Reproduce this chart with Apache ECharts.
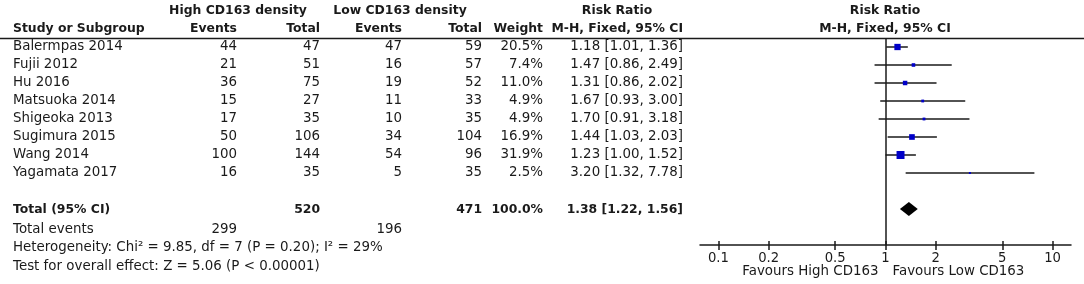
<!DOCTYPE html>
<html>
<head>
<meta charset="utf-8">
<script src="https://cdn.jsdelivr.net/npm/echarts@6/dist/echarts.min.js"></script>
<style>
  html, body { margin: 0; padding: 0; background: #fff; }
  #chart { width: 1084px; height: 284px; }
</style>
</head>
<body>
<div id="chart"></div>
<script>
  // study data
  const studies = ['Balermpas 2014', 'Fujii 2012', 'Hu 2016', 'Matsuoka 2014', 'Shigeoka 2013', 'Sugimura 2015', 'Wang 2014', 'Yagamata 2017']
  const highEvents = [44, 21, 36, 15, 17, 50, 100, 16]
  const highTotal = [47, 51, 75, 27, 35, 106, 144, 35]
  const lowEvents = [47, 16, 19, 11, 10, 34, 54, 5]
  const lowTotal = [59, 57, 52, 33, 35, 104, 96, 35]
  const weights = [20.5, 7.4, 11.0, 4.9, 4.9, 16.9, 31.9, 2.5]
  const ratios = [1.18, 1.47, 1.31, 1.67, 1.70, 1.44, 1.23, 3.20]
  const ciLow = [1.01, 0.86, 0.86, 0.93, 0.91, 1.03, 1.00, 1.32]
  const ciHigh = [1.36, 2.49, 2.02, 3.00, 3.18, 2.03, 1.52, 7.78]

  // pooled result
  const totalHighEvents = 299
  const totalHigh = 520
  const totalLowEvents = 196
  const totalLow = 471
  const totalWeight = 100.0
  const totalRatio = [1.38, 1.22, 1.56]

  const tickValues = [0.1, 0.2, 0.5, 1, 2, 5, 10]

  const FONT = 'DejaVu Sans'
  const SIZE = 13.4
  const SIZE_BOLD = 12.4
  const INK = '#1a1a1a'
  const TOTAL_ROW = 9
  const lg = Math.log10

  const chart = echarts.init(document.getElementById('chart'))

  const fmtCI = (r, a, b) => r.toFixed(2) + ' [' + a.toFixed(2) + ', ' + b.toFixed(2) + ']'

  const plotGrid = { left: 700, right: 13, top: 38, bottom: 39 }
  const xAxisBase = {
    type: 'value',
    min: -1.11,
    max: 1.11,
    position: 'bottom',
    splitLine: { show: false }
  }

  chart.setOption({
    animation: false,
    // second grid only carries the tick stubs above the axis line
    grid: [plotGrid, { ...plotGrid }],
    xAxis: [
      {
        ...xAxisBase,
        gridIndex: 0,
        axisLine: { show: true, onZero: false, lineStyle: { color: INK, width: 1.5 } },
        axisTick: { show: true, length: 5, lineStyle: { color: INK, width: 1.5 }, customValues: tickValues.map(lg) },
        axisLabel: {
          show: true,
          margin: 7,
          color: INK,
          fontFamily: FONT,
          fontSize: 13.2,
          customValues: tickValues.map(lg),
          formatter: (v) => String(Number(Math.pow(10, v).toPrecision(2)))
        }
      },
      {
        ...xAxisBase,
        gridIndex: 1,
        axisLine: { show: false, onZero: false },
        axisTick: { show: true, inside: true, length: 4, lineStyle: { color: INK, width: 1.5 }, customValues: tickValues.map(lg) },
        axisLabel: { show: false }
      }
    ],
    yAxis: [
      { type: 'value', gridIndex: 0, inverse: true, min: -0.5, max: 11, show: false },
      { type: 'value', gridIndex: 1, inverse: true, min: -0.5, max: 11, show: false }
    ],
    series: [
      {
        // confidence interval whiskers
        type: 'custom',
        silent: true,
        encode: { x: [0, 1], y: 2 },
        data: studies.map((s, i) => [lg(ciLow[i]), lg(ciHigh[i]), i]),
        renderItem: (params, api) => {
          const a = api.coord([api.value(0), api.value(2)])
          const b = api.coord([api.value(1), api.value(2)])
          return {
            type: 'line',
            shape: { x1: a[0], y1: a[1], x2: b[0], y2: b[1] },
            style: { stroke: INK, lineWidth: 1.5 }
          }
        },
        z: 2
      },
      {
        // point estimates, size by weight
        type: 'scatter',
        symbol: 'rect',
        silent: true,
        data: studies.map((s, i) => ({
          value: [lg(ratios[i]), i],
          symbolSize: Math.max(2, 1.5 * Math.sqrt(weights[i]) - 0.5)
        })),
        itemStyle: { color: '#0000c8', opacity: 1 },
        markLine: {
          silent: true,
          symbol: 'none',
          label: { show: false },
          lineStyle: { color: INK, width: 1.5, type: 'solid' },
          data: [{ xAxis: 0 }]
        },
        z: 3
      },
      {
        // pooled diamond
        type: 'custom',
        silent: true,
        encode: { x: [0, 1, 2], y: 3 },
        data: [[lg(totalRatio[1]), lg(totalRatio[0]), lg(totalRatio[2]), TOTAL_ROW]],
        renderItem: (params, api) => {
          const l = api.coord([api.value(0), api.value(3)])
          const m = api.coord([api.value(1), api.value(3)])
          const r = api.coord([api.value(2), api.value(3)])
          const h = 7
          return {
            type: 'polygon',
            shape: { points: [[l[0], l[1]], [m[0], m[1] - h], [r[0], r[1]], [m[0], m[1] + h]] },
            style: { fill: '#000' }
          }
        },
        z: 3
      }
    ]
  })

  // table text, rows placed through the y axis
  const rowY = (i) => chart.convertToPixel({ yAxisIndex: 0 }, i)
  const texts = []
  const t = (x, y, text, align, bold) => {
    texts.push({
      type: 'text',
      x: x,
      y: y,
      silent: true,
      style: {
        text: text,
        font: (bold ? 'bold ' + SIZE_BOLD : SIZE) + 'px "' + FONT + '"',
        textAlign: align || 'left',
        textVerticalAlign: 'middle',
        fill: INK
      }
    })
  }

  const col = { study: 13, hiEv: 237, hiTot: 320, loEv: 402, loTot: 482, w: 543, ci: 683, plot: 885 }

  // header
  t(238, 11, 'High CD163 density', 'center', true)
  t(400, 11, 'Low CD163 density', 'center', true)
  t(617, 11, 'Risk Ratio', 'center', true)
  t(col.plot, 11, 'Risk Ratio', 'center', true)
  t(col.study, 29, 'Study or Subgroup', 'left', true)
  t(col.hiEv, 29, 'Events', 'right', true)
  t(col.hiTot, 29, 'Total', 'right', true)
  t(col.loEv, 29, 'Events', 'right', true)
  t(col.loTot, 29, 'Total', 'right', true)
  t(col.w, 29, 'Weight', 'right', true)
  t(col.ci, 29, 'M-H, Fixed, 95% CI', 'right', true)
  t(col.plot, 29, 'M-H, Fixed, 95% CI', 'center', true)

  studies.forEach((s, i) => {
    const y = rowY(i)
    t(col.study, y, s, 'left')
    t(col.hiEv, y, String(highEvents[i]), 'right')
    t(col.hiTot, y, String(highTotal[i]), 'right')
    t(col.loEv, y, String(lowEvents[i]), 'right')
    t(col.loTot, y, String(lowTotal[i]), 'right')
    t(col.w, y, weights[i].toFixed(1) + '%', 'right')
    t(col.ci, y, fmtCI(ratios[i], ciLow[i], ciHigh[i]), 'right')
  })

  const yt = rowY(TOTAL_ROW) + 1
  t(col.study, yt, 'Total (95% CI)', 'left', true)
  t(col.hiTot, yt, String(totalHigh), 'right', true)
  t(col.loTot, yt, String(totalLow), 'right', true)
  t(col.w, yt, totalWeight.toFixed(1) + '%', 'right', true)
  t(col.ci, yt, fmtCI(totalRatio[0], totalRatio[1], totalRatio[2]), 'right', true)

  t(col.study, 230, 'Total events', 'left')
  t(col.hiEv, 230, String(totalHighEvents), 'right')
  t(col.loEv, 230, String(totalLowEvents), 'right')
  t(col.study, 248, 'Heterogeneity: Chi² = 9.85, df = 7 (P = 0.20); I² = 29%', 'left')
  t(col.study, 267, 'Test for overall effect: Z = 5.06 (P < 0.00001)', 'left')

  // favours labels under the axis
  const x1 = chart.convertToPixel({ xAxisIndex: 0 }, 0)
  t(x1 - 7, 272, 'Favours High CD163', 'right')
  t(x1 + 7, 272, 'Favours Low CD163', 'left')

  chart.setOption({
    graphic: [
      {
        type: 'line',
        silent: true,
        shape: { x1: 0, y1: 38.5, x2: 1084, y2: 38.5 },
        style: { stroke: INK, lineWidth: 1.5 }
      },
      ...texts
    ]
  })
</script>
</body>
</html>
